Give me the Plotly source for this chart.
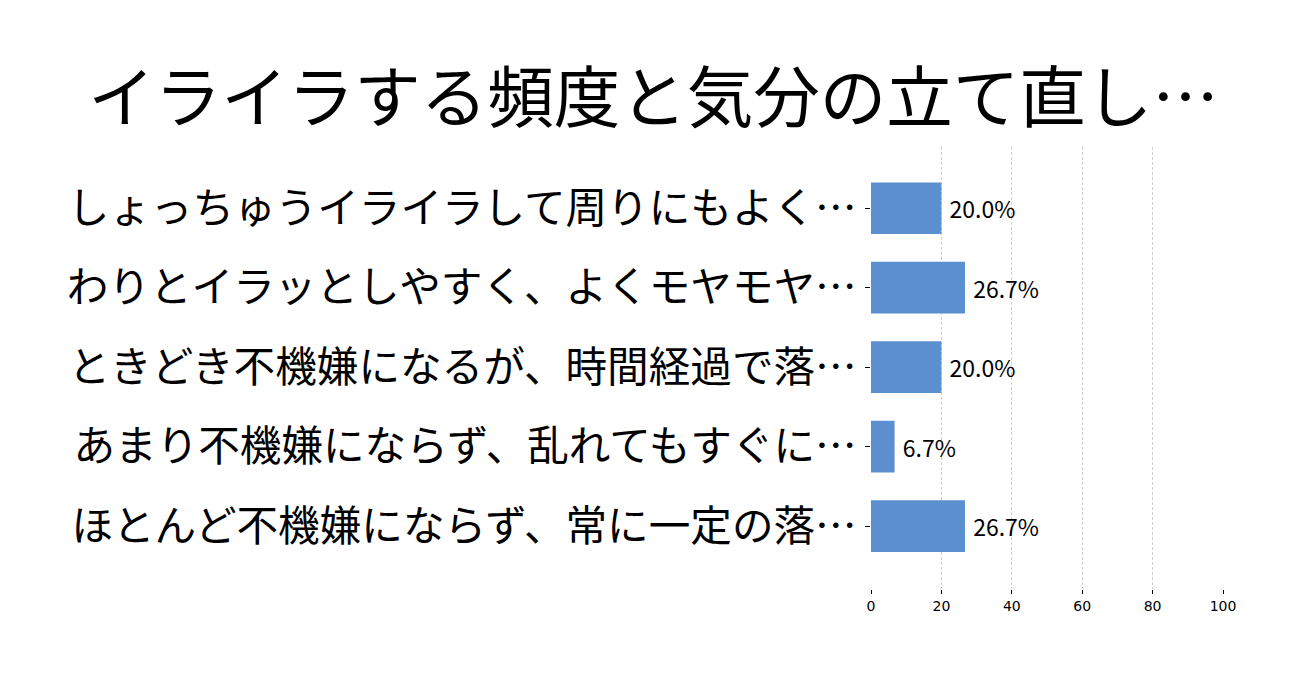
import plotly.graph_objects as go

# データ
categories = [
    "しょっちゅうイライラして周りにもよく…",
    "わりとイラッとしやすく、よくモヤモヤ…",
    "ときどき不機嫌になるが、時間経過で落…",
    "あまり不機嫌にならず、乱れてもすぐに…",
    "ほとんど不機嫌にならず、常に一定の落…",
]
values = [20.0, 26.7, 20.0, 6.7, 26.7]
value_labels = ["20.0%", "26.7%", "20.0%", "6.7%", "26.7%"]
x_ticks = [0, 20, 40, 60, 80, 100]

jp_font = "Noto Sans CJK JP"

fig = go.Figure(data=[
    go.Bar(
        y=categories, x=values, orientation="h",
        marker=dict(color="#5b8fd0", line=dict(width=0)),
        width=0.65,
        text=value_labels, texttemplate=" %{text}",
        textposition="outside", cliponaxis=False,
        textfont=dict(size=23, family=jp_font, color="black"),
    )
])

fig.update_layout(
    width=1306, height=683,
    paper_bgcolor="white", plot_bgcolor="white",
    margin=dict(l=863, r=91, t=139, b=102),
    title=dict(text="イライラする頻度と気分の立て直し…", x=0.4943, xanchor="center",
               y=0.867, yanchor="middle",
               font=dict(size=66.5, family=jp_font, color="black")),
    showlegend=False,
)

fig.update_xaxes(
    range=[0, 100], tickvals=x_ticks, ticks="outside", ticklen=4, tickcolor="black",
    tickfont=dict(size=14, family="DejaVu Sans", color="black"),
    showgrid=True, gridcolor="#cfcfcf", griddash="3px,2px", gridwidth=1,
    zeroline=False, showline=False,
)
fig.update_yaxes(
    categoryorder="array", categoryarray=categories,
    range=[4.79, -0.77], ticks="outside", ticklen=5, tickcolor="black",
    ticklabelstandoff=0,
    tickfont=dict(size=41.6, family=jp_font, color="black"),
    showgrid=False, zeroline=False, showline=False,
)

fig.write_html("out.html")
